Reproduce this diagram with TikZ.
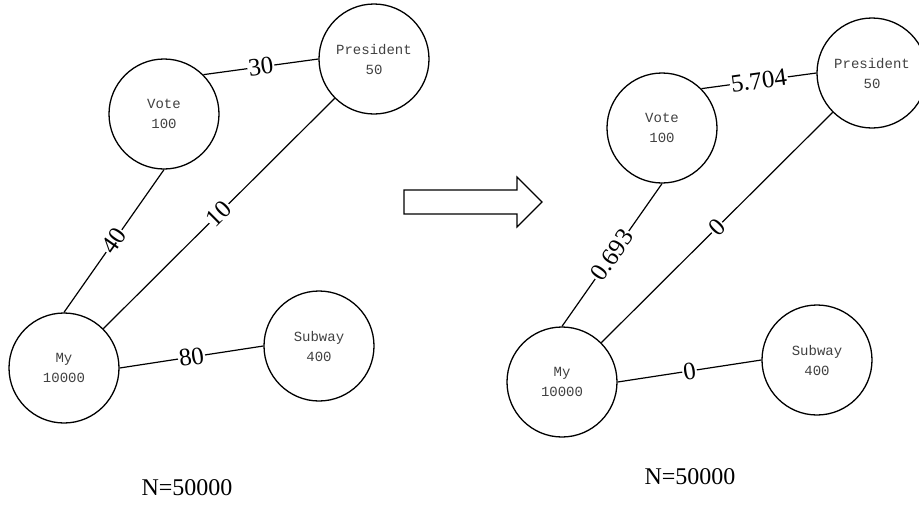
\documentclass[tikz,border=0pt]{standalone}
\usepackage{fontspec}
\setmainfont{Liberation Serif}
\newfontfamily\wordfont{Liberation Mono}

\tikzset{
    word/.style={draw, circle, line width=1.3pt, minimum size=110pt, inner sep=0pt,
        align=center, text=black!75, font=\wordfont\fontsize{14}{20}\selectfont},
    weight/.style={fill=white, inner sep=1pt, sloped, font=\fontsize{25}{25}\selectfont},
    link/.style={line width=1.2pt},
    total/.style={font=\fontsize{24}{24}\selectfont}
}

\begin{document}
\begin{tikzpicture}[x=1pt, y=-1pt]

    \useasboundingbox (0,0) rectangle (919,504);

    % Left graph
    \node[word] (vote) at (164,114) {Vote\\100};
    \node[word] (pres) at (374,59) {President\\50};
    \node[word] (my) at (64,368) {My\\10000};
    \node[word] (subway) at (319,346) {Subway\\400};

    % Weights
    \draw[link] (vote.45) -- node[weight] {30} (pres.west);
    \draw[link] (my.north) -- node[weight] {40} (vote.south);
    \draw[link] (my.45) -- node[weight] {10} (pres.225);
    \draw[link] (my.east) -- node[weight] {80} (subway.west);

    \node[total] (total1) at (187,488) {N=50000};

    % Hollow arrow in the middle
    \draw[link] (404,190) -- (517,190) -- (517,177) -- (542,202)
        -- (517,227) -- (517,214) -- (404,214) -- cycle;

    % Right graph
    \node[word] (vote2) at (662,128) {Vote\\100};
    \node[word] (pres2) at (872,73) {President\\50};
    \node[word] (my2) at (562,382) {My\\10000};
    \node[word] (subway2) at (817,360) {Subway\\400};

    % New weights
    \draw[link] (vote2.45) -- node[weight] {5.704} (pres2.west);
    \draw[link] (my2.north) -- node[weight] {0.693} (vote2.south);
    \draw[link] (my2.45) -- node[weight] {0} (pres2.225);
    \draw[link] (my2.east) -- node[weight] {0} (subway2.west);

    \node[total] (total2) at (690,477) {N=50000};

\end{tikzpicture}
\end{document}
